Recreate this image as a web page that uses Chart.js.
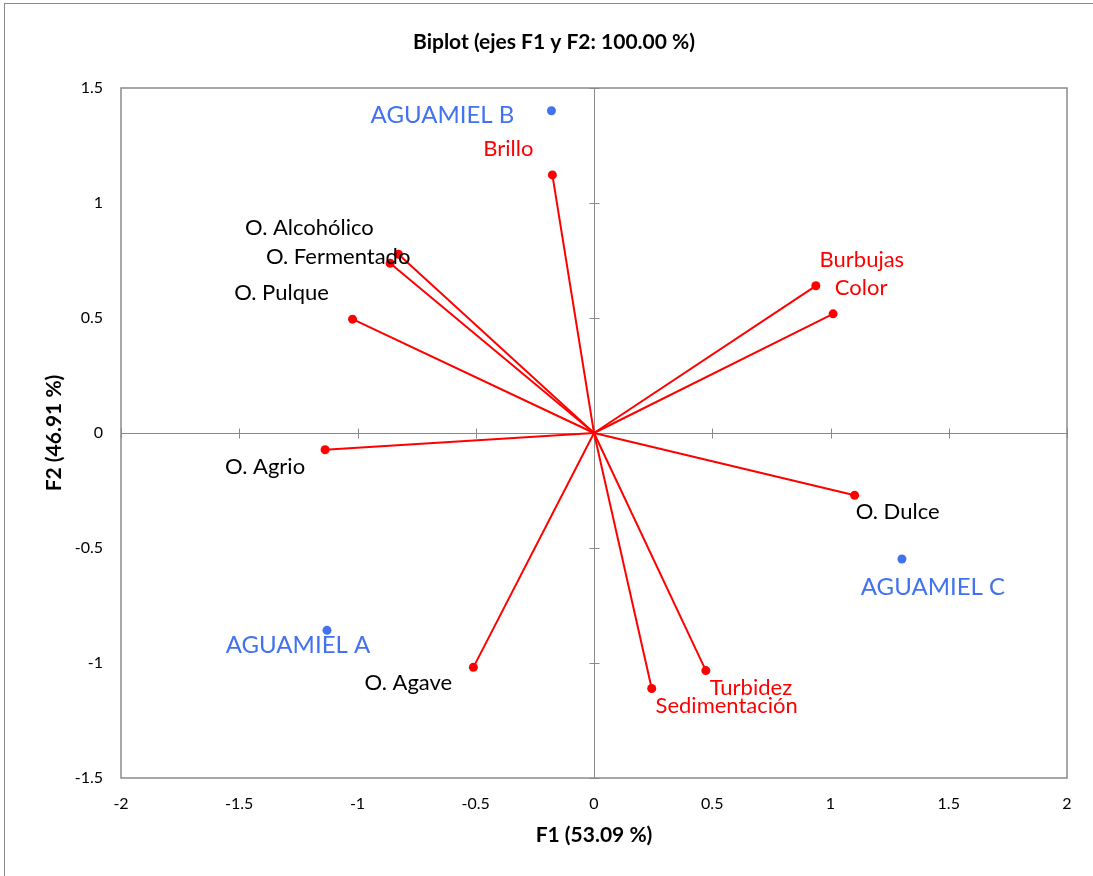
<!DOCTYPE html>
<html>
<head>
<meta charset="utf-8">
<title>Biplot</title>
<script src="https://cdn.jsdelivr.net/npm/chart.js@4.4.1/dist/chart.umd.min.js"></script>
<style>
  body { margin: 0; background: #fff; }
  #frame { position: absolute; left: 4px; top: 3px; width: 1110px; height: 890px; border: 1px solid #8a8a8a; }
  #myChart { position: absolute; left: 0; top: 0; }
</style>
</head>
<body>
<div id="frame"></div>
<canvas id="myChart" width="1093" height="876"></canvas>
<script>
'use strict';

// variables (red vectors)
const variables = ['Brillo', 'O. Alcohólico', 'O. Fermentado', 'O. Pulque', 'Burbujas', 'Color',
  'O. Agrio', 'O. Dulce', 'O. Agave', 'Sedimentación', 'Turbidez'];
const varF1 = [-0.176, -0.827, -0.862, -1.021, 0.938, 1.011, -1.137, 1.102, -0.510, 0.244, 0.473];
const varF2 = [1.122, 0.777, 0.738, 0.495, 0.640, 0.518, -0.073, -0.271, -1.019, -1.111, -1.033];

// observations (blue points)
const samples = ['AGUAMIEL A', 'AGUAMIEL B', 'AGUAMIEL C'];
const sampleF1 = [-1.129, -0.180, 1.302];
const sampleF2 = [-0.858, 1.401, -0.548];

const xTicks = [-2, -1.5, -1, -0.5, 0, 0.5, 1, 1.5, 2];
const yTicks = [-1.5, -1, -0.5, 0, 0.5, 1, 1.5];

const RED = '#ff0000';
const BLUE = '#4272f0';
const AXIS = '#8a8a8a';
const FONT = 'Lato, "Open Sans", sans-serif';

// label placement relative to each point (px)
const varLabel = {
  'Brillo': [-44, -26, RED],
  'O. Alcohólico': [-89, -26, '#000'],
  'O. Fermentado': [-52, -6, '#000'],
  'O. Pulque': [-71, -26, '#000'],
  'Burbujas': [46, -26, RED],
  'Color': [28, -26, RED],
  'O. Agrio': [-60, 17, '#000'],
  'O. Dulce': [43, 17, '#000'],
  'O. Agave': [-65, 16, '#000'],
  'Sedimentación': [75, 17, RED],
  'Turbidez': [45, 17, RED]
};
const sampleLabel = {
  'AGUAMIEL A': [-29, 15],
  'AGUAMIEL B': [-109, 4],
  'AGUAMIEL C': [31, 28]
};

const datasets = [];
for (let i = 0; i < variables.length; i++) {
  datasets.push({
    label: variables[i],
    data: [{ x: 0, y: 0 }, { x: varF1[i], y: varF2[i] }],
    showLine: true,
    borderColor: RED,
    borderWidth: 2,
    pointRadius: [0, 4.5],
    pointBackgroundColor: RED,
    pointBorderWidth: 0
  });
}
datasets.push({
  label: 'Observaciones',
  data: samples.map((s, i) => ({ x: sampleF1[i], y: sampleF2[i] })),
  showLine: false,
  pointRadius: 4.5,
  pointBackgroundColor: BLUE,
  pointBorderWidth: 0
});

// plot frame, axes through the origin with cross ticks
const axesPlugin = {
  id: 'axes',
  beforeDatasetsDraw(chart) {
    const { ctx, chartArea: a, scales: { x, y } } = chart;
    ctx.save();
    ctx.strokeStyle = AXIS;
    ctx.lineWidth = 1.5;
    ctx.strokeRect(a.left, a.top, a.right - a.left, a.bottom - a.top);
    ctx.lineWidth = 1;
    const x0 = Math.round(x.getPixelForValue(0)) + 0.5;
    const y0 = Math.round(y.getPixelForValue(0)) + 0.5;
    ctx.beginPath();
    ctx.moveTo(a.left, y0); ctx.lineTo(a.right, y0);
    ctx.moveTo(x0, a.top); ctx.lineTo(x0, a.bottom);
    xTicks.forEach(v => {
      const px = Math.round(x.getPixelForValue(v)) + 0.5;
      ctx.moveTo(px, y0 - 5); ctx.lineTo(px, y0 + 5);
    });
    yTicks.forEach(v => {
      const py = Math.round(y.getPixelForValue(v)) + 0.5;
      ctx.moveTo(x0 - 5, py); ctx.lineTo(x0 + 5, py);
    });
    ctx.stroke();
    ctx.restore();
  },
  afterDatasetsDraw(chart) {
    const { ctx, scales: { x, y } } = chart;
    ctx.save();
    ctx.textAlign = 'center';
    ctx.textBaseline = 'middle';
    ctx.font = '22px ' + FONT;
    variables.forEach((name, i) => {
      const o = varLabel[name];
      ctx.fillStyle = o[2];
      ctx.fillText(name, x.getPixelForValue(varF1[i]) + o[0], y.getPixelForValue(varF2[i]) + o[1]);
    });
    ctx.font = '24px ' + FONT;
    ctx.fillStyle = BLUE;
    samples.forEach((name, i) => {
      const o = sampleLabel[name];
      ctx.fillText(name, x.getPixelForValue(sampleF1[i]) + o[0], y.getPixelForValue(sampleF2[i]) + o[1]);
    });
    // chart title
    ctx.fillStyle = '#000';
    ctx.font = 'bold 21px ' + FONT;
    ctx.fillText('Biplot (ejes F1 y F2: 100.00 %)', 554, 42);
    ctx.restore();
  }
};

const tickFont = { family: FONT, size: 16 };
const titleFont = { family: FONT, size: 21, weight: 'bold', lineHeight: 1.2 };

new Chart(document.getElementById('myChart'), {
  type: 'scatter',
  data: { datasets: datasets },
  options: {
    responsive: false,
    animation: false,
    layout: { padding: { top: 88, right: 26, left: 0, bottom: 0 } },
    plugins: { legend: { display: false }, tooltip: { enabled: false }, title: { display: false } },
    scales: {
      x: {
        type: 'linear', min: -2, max: 2,
        afterBuildTicks: s => { s.ticks = xTicks.map(v => ({ value: v })); },
        afterFit: s => { s.height = 98; },
        grid: { display: false, drawTicks: false },
        border: { display: false },
        ticks: { padding: 16, color: '#000', font: tickFont, callback: v => String(v) },
        title: { display: true, text: 'F1 (53.09 %)', color: '#000', font: titleFont, padding: { top: 0, bottom: 28 } }
      },
      y: {
        type: 'linear', min: -1.5, max: 1.5,
        afterBuildTicks: s => { s.ticks = yTicks.map(v => ({ value: v })); },
        afterFit: s => { s.width = 121; },
        grid: { display: false, drawTicks: false },
        border: { display: false },
        ticks: { padding: 18, color: '#000', font: tickFont, callback: v => String(v) },
        title: { display: true, text: 'F2 (46.91 %)', color: '#000', font: titleFont, padding: { top: 42, bottom: 0 } }
      }
    }
  },
  plugins: [axesPlugin]
});
</script>
</body>
</html>
